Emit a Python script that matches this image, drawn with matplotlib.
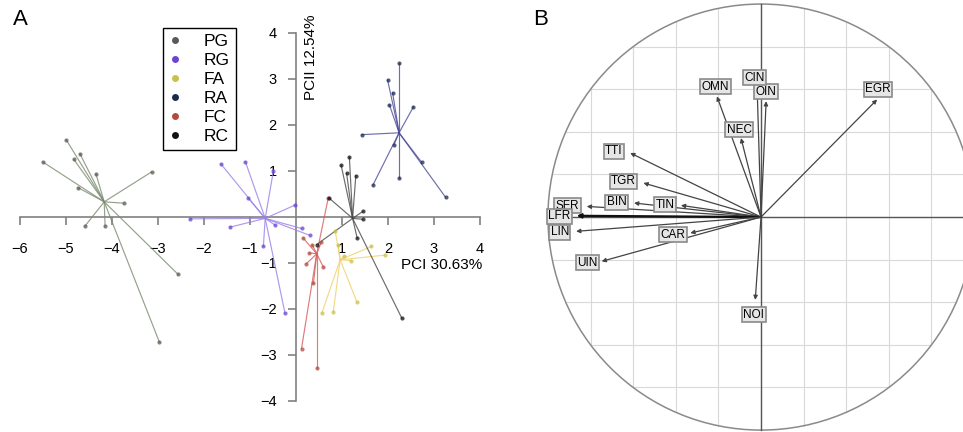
import numpy as np
import matplotlib
matplotlib.use('Agg')
import matplotlib.pyplot as plt
from matplotlib.lines import Line2D
from matplotlib.patches import Circle

plt.rcParams['font.family'] = ['Liberation Sans', 'DejaVu Sans']

# ---- panel A : class stars ----
groups = ['PG', 'RG', 'FA', 'RA', 'FC', 'RC']

pg_centre = (-4.17, 0.33)
pg_x = [-4.99, -5.51, -4.70, -4.83, -4.35, -4.74, -3.14, -3.75, -4.59, -4.15, -2.56, -2.97]
pg_y = [1.67, 1.20, 1.38, 1.25, 0.94, 0.64, 0.98, 0.30, -0.20, -0.20, -1.25, -2.72]

rg_centre = (-0.67, -0.03)
rg_x = [-1.63, -1.10, -0.49, -1.04, -0.02, -2.30, -1.43, -0.71, -0.24, 0.30, 0.12, -0.45]
rg_y = [1.15, 1.20, 1.01, 0.41, 0.26, -0.04, -0.22, -0.64, -2.09, -0.40, -0.25, -0.18]

fa_centre = (0.96, -0.93)
fa_x = [1.32, 0.81, 0.56, 1.64, 1.93, 0.92, 1.05, 0.85, 1.20]
fa_y = [-1.84, -2.06, -2.09, -0.64, -0.83, -0.61, -0.85, -0.30, -0.95]

ra_centre = (2.24, 1.83)
ra_x = [2.24, 1.99, 2.10, 2.03, 2.55, 1.43, 2.13, 2.73, 2.24, 1.67, 3.25]
ra_y = [3.34, 2.98, 2.70, 2.44, 2.39, 1.79, 1.57, 1.19, 0.85, 0.69, 0.43]

fc_centre = (0.45, -0.80)
fc_x = [0.12, 0.45, 0.22, 0.38, 0.59, 0.70, 0.29, 0.15, 0.55, 0.35]
fc_y = [-2.86, -3.29, -1.02, -1.44, -1.08, 0.41, -0.78, -0.45, -0.55, -0.60]

rc_centre = (1.23, -0.03)
rc_x = [0.98, 1.16, 1.10, 0.72, 1.45, 1.45, 1.33, 2.30, 0.45, 1.30]
rc_y = [1.13, 1.30, 0.95, 0.41, 0.12, -0.05, -0.46, -2.20, -0.60, 0.90]

centres = [pg_centre, rg_centre, fa_centre, ra_centre, fc_centre, rc_centre]
xs = [pg_x, rg_x, fa_x, ra_x, fc_x, rc_x]
ys = [pg_y, rg_y, fa_y, ra_y, fc_y, rc_y]

line_cols = ['#7a8a70', '#9a80e6', '#f2d06a', '#4a4a9a', '#d85a5a', '#474747']
dot_cols = ['#555c52', '#6a44d2', '#c9c244', '#1c2a4e', '#b44a3a', '#111111']

# ---- panel B : correlation circle ----
var_names = ['EGR', 'OIN', 'CIN', 'OMN', 'NEC', 'TTI', 'TGR', 'BIN', 'TIN',
             'SFR', 'LFR', 'LIN', 'CAR', 'UIN', 'NOI']
var_x = [0.545, 0.024, -0.018, -0.207, -0.094, -0.614, -0.552, -0.596, -0.376,
         -0.818, -0.865, -0.868, -0.332, -0.748, -0.027]
var_y = [0.552, 0.544, 0.600, 0.567, 0.371, 0.301, 0.160, 0.066, 0.055,
         0.050, 0.006, -0.067, -0.075, -0.208, -0.389]
lab_x = [0.550, 0.022, -0.030, -0.213, -0.103, -0.690, -0.646, -0.677, -0.450,
         -0.909, -0.947, -0.944, -0.414, -0.813, -0.034]
lab_y = [0.599, 0.589, 0.654, 0.611, 0.411, 0.309, 0.168, 0.069, 0.058,
         0.053, 0.003, -0.072, -0.083, -0.215, -0.459]

fig = plt.figure(figsize=(9.63, 4.32), dpi=100)

# ---------------- A ----------------
axA = fig.add_axes([0, 0, 490 / 963, 1])
axA.set_xlim(-6.435, 4.217)
axA.set_ylim(-4.674, 4.717)

for (cx, cy), gx, gy, lc, dc in zip(centres, xs, ys, line_cols, dot_cols):
    for px, py in zip(gx, gy):
        axA.plot([cx, px], [cy, py], color=lc, lw=0.85, alpha=0.8, zorder=2)
    axA.plot(gx, gy, 'o', color=dc, ms=3, alpha=0.75, zorder=3, mec='none')

for s in ['top', 'right']:
    axA.spines[s].set_visible(False)
axA.spines['bottom'].set_position(('data', 0))
axA.spines['left'].set_position(('data', 0))
axA.spines['bottom'].set_bounds(-6, 4)
axA.spines['left'].set_bounds(-4, 4)
for s in ['bottom', 'left']:
    axA.spines[s].set_color('#808080')
    axA.spines[s].set_linewidth(1.2)
    axA.spines[s].set_zorder(1)

axA.set_xticks([-6, -5, -4, -3, -2, -1, 1, 2, 3, 4])
axA.set_yticks([-4, -3, -2, -1, 1, 2, 3, 4])
axA.tick_params(axis='x', direction='out', length=6, width=1.2, color='#808080',
                labelsize=10.5, pad=12)
axA.tick_params(axis='y', direction='out', length=6, width=1.2, color='#808080',
                labelsize=10.5, pad=8)

axA.text(4.05, -1.04, 'PCI 30.63%', ha='right', va='center', fontsize=11)
axA.text(0.17, 3.48, 'PCII 12.54%', ha='left', va='center', rotation=90,
         fontsize=11)

handles = [Line2D([], [], ls='', marker='o', ms=5, color=c, mec='none')
           for c in dot_cols]
leg = axA.legend(handles, groups, loc='upper left',
                 bbox_to_anchor=(163 / 963, 1 - 28 / 432),
                 bbox_transform=fig.transFigure, fontsize=12.5, frameon=True,
                 fancybox=False, framealpha=1, edgecolor='black',
                 handlelength=0.7, handletextpad=1.3, labelspacing=0.22,
                 borderpad=0.35, borderaxespad=0)
leg.get_frame().set_linewidth(1.0)

fig.text(13 / 963, 1 - 30 / 432, 'A', fontsize=16, ha='left', va='bottom')

# ---------------- B ----------------
axB = fig.add_axes([490 / 963, 0, 473 / 963, 1])
axB.set_xlim(-1.272, 0.948)
axB.set_ylim(-1.009, 1.019)
axB.set_axis_off()

for g in np.arange(-0.8, 0.81, 0.2):
    h = np.sqrt(1 - g ** 2)
    axB.plot([g, g], [-h, h], color='#d9d9d9', lw=0.8, zorder=1)
    axB.plot([-h, h], [g, g], color='#d9d9d9', lw=0.8, zorder=1)

axB.add_patch(Circle((0, 0), 1, fill=False, ec='#8a8a8a', lw=1.1, zorder=2))
axB.plot([-1, 1], [0, 0], color='#555555', lw=1.0, zorder=2)
axB.plot([0, 0], [-1, 1], color='#555555', lw=1.0, zorder=2)

for name, vx, vy, lx, ly in zip(var_names, var_x, var_y, lab_x, lab_y):
    bold = name == 'LFR'
    axB.annotate('', xy=(vx, vy), xytext=(0, 0),
                 arrowprops=dict(arrowstyle='-|>', color='#111' if bold else '#444',
                                 lw=1.6 if bold else 0.9, mutation_scale=6,
                                 shrinkA=0, shrinkB=0), zorder=3)
    axB.text(lx, ly, name, ha='center', va='center', fontsize=8.5, zorder=4,
             bbox=dict(boxstyle='square,pad=0.12', fc='#e6e6e6', ec='#8a8a8a',
                       lw=1.2))

fig.text(533 / 963, 1 - 30 / 432, 'B', fontsize=16, ha='left', va='bottom')

fig.savefig('out.png', dpi=100)
